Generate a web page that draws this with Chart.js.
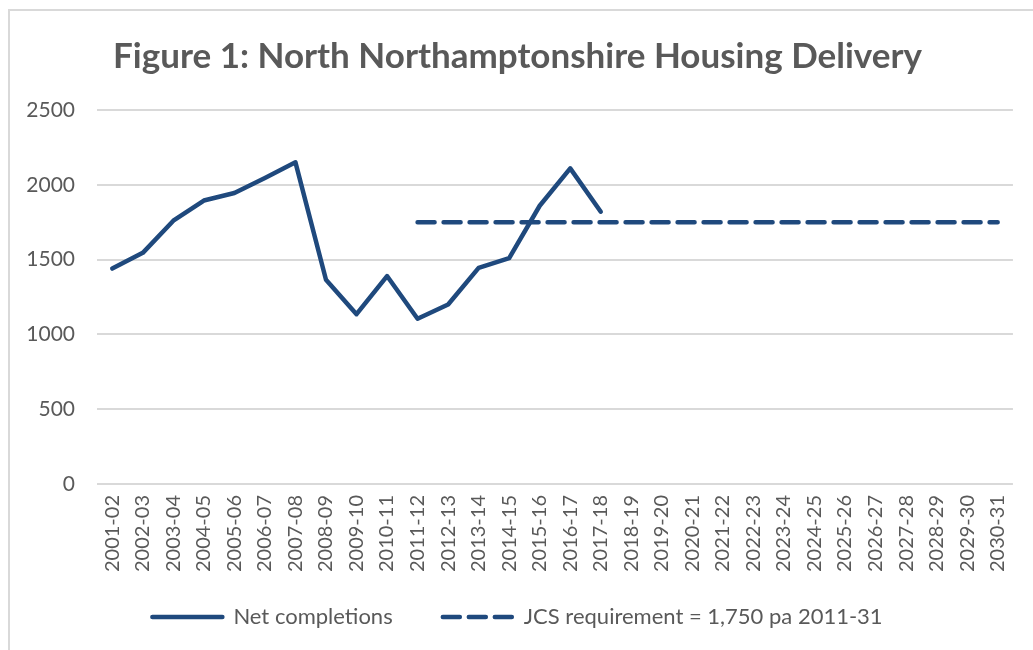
<!DOCTYPE html>
<html>
<head>
<meta charset="utf-8">
<script src="https://cdn.jsdelivr.net/npm/chart.js@4.4.0/dist/chart.umd.min.js"></script>
<style>
  html, body { margin: 0; padding: 0; background: #fff; }
  #wrap { position: relative; width: 1033px; height: 650px; }
  #frame {
    position: absolute; left: 8px; top: 9px; right: 0; bottom: 0;
    border-top: 2px solid #d9d9d9; border-left: 2px solid #d9d9d9;
  }
  canvas { position: absolute; left: 0; top: 0; }
</style>
</head>
<body>
<div id="wrap">
  <div id="frame"></div>
  <canvas id="housing" width="1033" height="650"></canvas>
</div>
<script>
const years = [
  "2001-02", "2002-03", "2003-04", "2004-05", "2005-06", "2006-07",
  "2007-08", "2008-09", "2009-10", "2010-11", "2011-12", "2012-13",
  "2013-14", "2014-15", "2015-16", "2016-17", "2017-18", "2018-19",
  "2019-20", "2020-21", "2021-22", "2022-23", "2023-24", "2024-25",
  "2025-26", "2026-27", "2027-28", "2028-29", "2029-30", "2030-31",
];

// net completions (up to 2017-18)
const netCompletions = [
  1440, 1545, 1760, 1895, 1945, 2045, 2150, 1365, 1135, 1390,
  1105, 1200, 1445, 1510, 1860, 2110, 1820,
];

// JCS requirement 1,750 pa from 2011-12
const jcsStart = 10;
const jcsValue = 1750;
const jcsRequirement = years.map((y, i) => (i >= jcsStart ? jcsValue : null));

const yTicks = [0, 500, 1000, 1500, 2000, 2500];

const blue = "#1f497d";
const grey = "#595959";
const font = "Lato, 'Open Sans', sans-serif";
const lineW = 4.5;

const ctx = document.getElementById("housing").getContext("2d");

new Chart(ctx, {
  type: "line",
  data: {
    labels: years,
    datasets: [
      {
        label: "Net completions",
        data: netCompletions,
        borderColor: blue,
        backgroundColor: blue,
        borderWidth: lineW,
        pointRadius: 0,
        tension: 0,
        borderJoinStyle: "round",
        borderCapStyle: "round",
      },
      {
        label: "JCS requirement = 1,750 pa 2011-31",
        data: jcsRequirement,
        borderColor: blue,
        backgroundColor: blue,
        borderWidth: lineW,
        borderDash: [17, 9],
        borderCapStyle: "round",
        pointRadius: 0,
      },
    ],
  },
  options: {
    responsive: false,
    animation: false,
    layout: { padding: { left: 22, right: 20, top: 0, bottom: 12 } },
    plugins: {
      title: {
        display: true,
        text: "Figure 1: North Northamptonshire Housing Delivery",
        color: grey,
        font: { family: font, size: 35, weight: "bold" },
        padding: { top: 36, bottom: 32 },
      },
      legend: {
        position: "bottom",
        labels: {
          color: grey,
          font: { family: font, size: 22 },
          usePointStyle: true,
          pointStyle: "line",
          pointStyleWidth: 70,
          padding: 22,
          // keep the dash and the thick stroke in the legend samples
          generateLabels: (chart) => {
            const items = Chart.defaults.plugins.legend.labels.generateLabels(chart);
            return items.map((item, i) => {
              const ds = chart.data.datasets[item.datasetIndex];
              item.lineDash = ds.borderDash || [];
              item.lineWidth = lineW;
              item.lineCap = "round";
              item.strokeStyle = blue;
              item.fontColor = grey;
              if (i === 0) item.text += "     "; // wider gap between entries
              return item;
            });
          },
        },
      },
      tooltip: { enabled: false },
    },
    scales: {
      x: {
        offset: true,
        grid: { display: false, drawTicks: false },
        border: { display: false },
        ticks: {
          color: grey,
          font: { family: font, size: 20 },
          autoSkip: false,
          minRotation: 90,
          maxRotation: 90,
          padding: 11,
        },
        afterFit: (scale) => { scale.height = 100; },
      },
      y: {
        min: 0,
        max: 2500,
        afterBuildTicks: (scale) => {
          scale.ticks = yTicks.map((v) => ({ value: v }));
        },
        grid: { color: "#d9d9d9", lineWidth: 2, drawTicks: false },
        border: { display: false },
        ticks: {
          color: grey,
          font: { family: font, size: 21 },
          padding: 22,
          callback: (v) => String(v),
        },
        afterFit: (scale) => { scale.width = 75; },
      },
    },
  },
});
</script>
</body>
</html>
